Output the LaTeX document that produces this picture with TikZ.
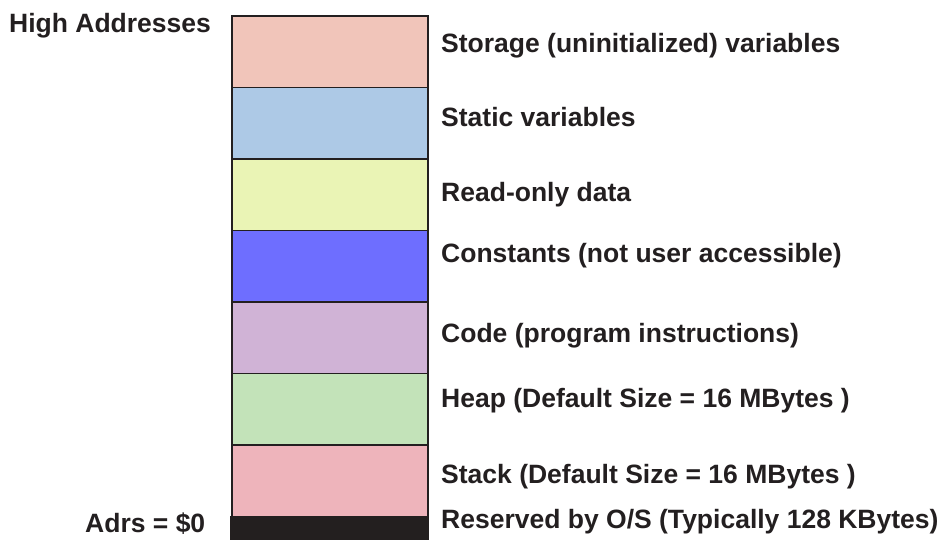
\documentclass[tikz,border=0pt]{standalone}
\usepackage{fontspec}
\setmainfont{Liberation Sans}
\usetikzlibrary{positioning}
\definecolor{StorPink}{HTML}{F1C5BA}
\definecolor{StatBlue}{HTML}{ADC9E6}
\definecolor{ROYellow}{HTML}{EAF4B5}
\definecolor{ConstBlue}{HTML}{6E6EFF}
\definecolor{CodeLilac}{HTML}{D0B3D6}
\definecolor{HeapGreen}{HTML}{C3E3B9}
\definecolor{StackRose}{HTML}{EEB4BB}
\definecolor{OSBlack}{HTML}{231F1F}
\definecolor{TxtGray}{HTML}{231F20}
\begin{document}
\begin{tikzpicture}[x=1pt, y=-1pt,
  seg/.style={draw=TxtGray, line width=1.6pt, minimum width=196pt,
              minimum height=71.5pt, inner sep=0pt, anchor=north west},
  txt/.style={anchor=base west, font=\fontsize{26.5}{30}\selectfont\bfseries, text=TxtGray,
              inner sep=0pt}
]
  \useasboundingbox (0,0) rectangle (941,539);
  % memory blocks, top to bottom
  \node[seg, fill=StorPink]  (stor)  at (231,15)    {};
  \node[seg, fill=StatBlue]  (stat)  at (231,86.5)  {};
  \node[seg, fill=ROYellow]  (ro)    at (231,158)   {};
  \node[seg, fill=ConstBlue] (const) at (231,229.5) {};
  \node[seg, fill=CodeLilac] (code)  at (231,301)   {};
  \node[seg, fill=HeapGreen] (heap)  at (231,372.5) {};
  \node[seg, fill=StackRose] (stack) at (231,444)   {};
  \node[fill=OSBlack, minimum width=199pt, minimum height=24pt, inner sep=0pt,
        anchor=north west] (os) at (229.5,516) {};
  % labels
  \node[txt] at (441,52)  {Storage (uninitialized) variables};
  \node[txt] at (441,126) {Static variables};
  \node[txt] at (441,201) {Read-only data};
  \node[txt] at (441,262) {Constants (not user accessible)};
  \node[txt] at (441,342) {Code (program instructions)};
  \node[txt] at (441,407) {Heap (Default Size = 16 MBytes )};
  \node[txt] at (441,483) {Stack (Default Size = 16 MBytes )};
  \node[txt] at (441,528) {Reserved by O/S (Typically 128 KBytes)};
  \node[txt] at (9,32)    {High Addresses};
  \node[txt] at (85,532)  {Adrs = \$0};
\end{tikzpicture}
\end{document}
